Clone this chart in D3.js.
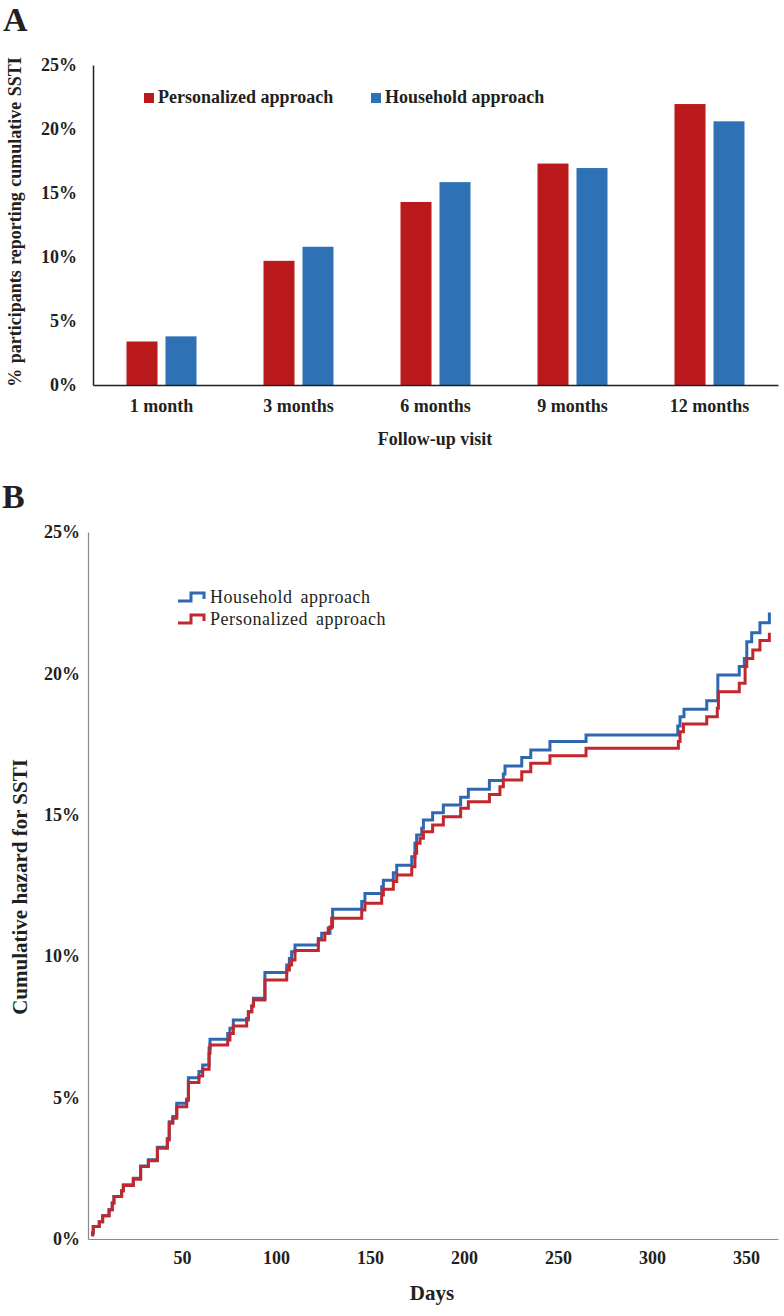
<!DOCTYPE html>
<html>
<head>
<meta charset="utf-8">
<script src="https://cdn.jsdelivr.net/npm/d3@7"></script>
<style>
  body { margin: 0; background: #fff; }
  text { font-family: "Liberation Serif", "Times New Roman", serif; fill: #231f20; }
</style>
</head>
<body>
<div id="chart-area"></div>
<script>
// panel A data
var visits = ["1 month", "3 months", "6 months", "9 months", "12 months"];
var seriesNames = ["Personalized approach", "Household approach"];
var personalizedPct = [3.4, 9.7, 14.3, 17.3, 21.95];
var householdPct = [3.8, 10.8, 15.85, 16.95, 20.6];
var pctTicks = [0, 5, 10, 15, 20, 25];

// panel B data: [day, cumulative hazard %]
var householdHazard = [
  [2.5, 0.1], [2.5, 0.22], [2.8, 0.44], [6, 0.61], [7.8, 0.82], [11.2, 1.03], [12.9, 1.27], [13.8, 1.5],
  [17.9, 1.71], [18.8, 1.92], [24.1, 2.15], [28, 2.58], [32.1, 2.8], [36.9, 3.24], [42.2, 3.55],
  [43.2, 4.15], [45.1, 4.33], [47.2, 4.8], [52.5, 4.95], [53.4, 5.7], [59, 5.92], [61, 6.15],
  [64.4, 6.75], [64.9, 7.06], [74.3, 7.27], [75.5, 7.45], [77.3, 7.74], [85.3, 8.04], [87.1, 8.24],
  [88, 8.51], [94.1, 9.42], [105.7, 9.69], [107.1, 9.92], [108.3, 10.16], [110.1, 10.4],
  [122.5, 10.63], [124.3, 10.81], [128.7, 11.04], [130.1, 11.66], [145.6, 11.93], [147.3, 12.22],
  [156.2, 12.46], [157.1, 12.69], [162.4, 12.95], [164.2, 13.22], [172.2, 13.52], [173.9, 13.99],
  [174.8, 14.29], [177.5, 14.52], [178.4, 14.82], [183.3, 15.07], [189, 15.35], [198.2, 15.62],
  [202.3, 15.9], [213.5, 16.21], [220.9, 16.44], [221.8, 16.73], [230.7, 17.03], [235.5, 17.29],
  [245.7, 17.59], [264.9, 17.82], [313.7, 18.14], [314.9, 18.47], [317, 18.73], [329.1, 19.03],
  [335, 19.94], [346.4, 20.24], [349.1, 20.53], [350.4, 21.12], [353, 21.44], [357.4, 21.79],
  [362.4, 22.15]
];
var personalizedHazard = [
  [2.5, 0.1], [2.5, 0.22], [2.8, 0.44], [6, 0.61], [7.8, 0.82], [11.2, 1.03], [12.9, 1.27], [13.8, 1.5],
  [17.9, 1.71], [18.8, 1.89], [24.1, 2.11], [28, 2.56], [32.1, 2.77], [36.9, 3.21], [42.2, 3.5],
  [43.2, 4.09], [45.1, 4.27], [47.2, 4.68], [52.5, 4.91], [53.4, 5.53], [59, 5.76], [61, 6.0],
  [64.4, 6.57], [64.9, 6.86], [74.3, 7.04], [75.5, 7.27], [77.3, 7.53], [84.4, 7.8], [85.3, 8.04],
  [87.1, 8.24], [88, 8.45], [94.1, 9.16], [105.7, 9.51], [107.1, 9.69], [108.3, 9.87], [110.1, 10.2],
  [122.5, 10.57], [126, 10.81], [127.8, 11.0], [129.6, 11.34], [145.6, 11.63], [147.3, 11.87],
  [156.2, 12.16], [157.1, 12.37], [162.4, 12.64], [164.2, 12.87], [172.2, 13.16], [173.9, 13.64],
  [174.8, 13.99], [176.6, 14.17], [178.4, 14.4], [183.3, 14.64], [189, 14.93], [198.2, 15.23],
  [202.3, 15.46], [213.5, 15.72], [219.1, 15.99], [220.9, 16.23], [230.7, 16.52], [235.5, 16.82],
  [245.7, 17.09], [264.9, 17.35], [314, 17.59], [314.9, 17.94], [316.7, 18.21], [329.1, 18.47],
  [334.7, 18.77], [335.3, 19.35], [346.4, 19.65], [349.5, 20.24], [350.4, 20.53], [353.6, 20.83],
  [357.4, 21.16], [362.4, 21.44]
];
var dayTicks = [50, 100, 150, 200, 250, 300, 350];

var redBar = "#bb1a1c";
var blueBar = "#2e72b5";
var redLine = "#c1272d";
var blueLine = "#2f67b1";

var svg = d3.select("#chart-area").append("svg")
  .attr("width", 784)
  .attr("height", 1316);

svg.append("rect").attr("width", 784).attr("height", 1316).attr("fill", "#fff");

// ---------- panel A ----------
svg.append("text")
  .attr("x", 3).attr("y", 31)
  .attr("font-size", "34px").attr("font-weight", "bold")
  .text("A");

var x0 = d3.scaleBand().domain(visits).range([93, 778]).padding(0);
var x1 = d3.scaleBand().domain(seriesNames).range([0, 70]).paddingInner(0.205).paddingOuter(0);
var yA = d3.scaleLinear().domain([0, 25]).range([385, 65]);

var barData = [];
visits.forEach(function(v, i) {
  barData.push({visit: v, series: seriesNames[0], value: personalizedPct[i], color: redBar});
  barData.push({visit: v, series: seriesNames[1], value: householdPct[i], color: blueBar});
});

svg.selectAll("rect.bar").data(barData).enter().append("rect")
  .attr("class", "bar")
  .attr("x", function(d) { return x0(d.visit) + (x0.bandwidth() - 70) / 2 + x1(d.series); })
  .attr("y", function(d) { return yA(d.value); })
  .attr("width", x1.bandwidth())
  .attr("height", function(d) { return yA(0) - yA(d.value); })
  .attr("fill", function(d) { return d.color; });

var yAxisA = svg.append("g")
  .attr("transform", "translate(93,0)")
  .call(d3.axisLeft(yA).tickValues(pctTicks).tickSize(0).tickPadding(16)
    .tickFormat(function(d) { return d + "%"; }));
yAxisA.select(".domain").attr("stroke", "#231f20").attr("stroke-width", 1.5);
yAxisA.selectAll("text")
  .attr("font-family", "Liberation Serif").attr("font-size", "18px").attr("font-weight", "bold")
  .attr("fill", "#231f20");

var xAxisA = svg.append("g")
  .attr("transform", "translate(0,385)")
  .call(d3.axisBottom(x0).tickSize(0).tickPadding(14));
xAxisA.select(".domain").attr("stroke", "#231f20").attr("stroke-width", 1.5);
xAxisA.selectAll("text")
  .attr("font-family", "Liberation Serif").attr("font-size", "18px").attr("font-weight", "bold")
  .attr("fill", "#231f20");

svg.append("text")
  .attr("x", 435).attr("y", 445)
  .attr("text-anchor", "middle")
  .attr("font-size", "18px").attr("font-weight", "bold")
  .text("Follow-up visit");

svg.append("text")
  .attr("transform", "rotate(-90)")
  .attr("x", -222).attr("y", 21)
  .attr("text-anchor", "middle")
  .attr("font-size", "18px").attr("font-weight", "bold")
  .attr("word-spacing", "1px")
  .text("% participants reporting cumulative SSTI");

// legend A
var legA = [{name: seriesNames[0], color: redBar, x: 144}, {name: seriesNames[1], color: blueBar, x: 371}];
var legAg = svg.selectAll("g.legA").data(legA).enter().append("g")
  .attr("class", "legA")
  .attr("transform", function(d) { return "translate(" + d.x + ",93)"; });
legAg.append("rect").attr("width", 10).attr("height", 10).attr("fill", function(d) { return d.color; });
legAg.append("text")
  .attr("x", 14).attr("y", 10)
  .attr("font-size", "18px").attr("font-weight", "bold")
  .text(function(d) { return d.name; });

// ---------- panel B ----------
svg.append("text")
  .attr("x", 2).attr("y", 508)
  .attr("font-size", "34px").attr("font-weight", "bold")
  .text("B");

var xB = d3.scaleLinear().domain([0, 367]).range([88, 778]);
var yB = d3.scaleLinear().domain([0, 25]).range([1239, 532]);

var yAxisB = svg.append("g")
  .attr("transform", "translate(88,0)")
  .call(d3.axisLeft(yB).tickValues(pctTicks).tickSize(0).tickPadding(8)
    .tickFormat(function(d) { return d + "%"; }));
yAxisB.select(".domain").attr("stroke", "#8a8a8a").attr("stroke-width", 1.2);
yAxisB.selectAll("text")
  .attr("font-family", "Liberation Serif").attr("font-size", "18px").attr("font-weight", "bold")
  .attr("fill", "#231f20");

var xAxisB = svg.append("g")
  .attr("transform", "translate(0,1239)")
  .call(d3.axisBottom(xB).tickValues(dayTicks).tickSize(0).tickPadding(12));
xAxisB.select(".domain").attr("stroke", "#8a8a8a").attr("stroke-width", 1.2);
xAxisB.selectAll("text")
  .attr("font-family", "Liberation Serif").attr("font-size", "18px").attr("font-weight", "bold")
  .attr("fill", "#231f20");

svg.append("text")
  .attr("x", 432).attr("y", 1300)
  .attr("text-anchor", "middle")
  .attr("font-size", "21px").attr("font-weight", "bold")
  .text("Days");

svg.append("text")
  .attr("transform", "rotate(-90)")
  .attr("x", -887).attr("y", 27)
  .attr("text-anchor", "middle")
  .attr("font-size", "21px").attr("font-weight", "bold")
  .text("Cumulative hazard for SSTI");

var stepLine = d3.line()
  .x(function(d) { return xB(d[0]); })
  .y(function(d) { return yB(d[1]); })
  .curve(d3.curveStepAfter);

svg.append("path").datum(householdHazard)
  .attr("fill", "none").attr("stroke", blueLine).attr("stroke-width", 3)
  .attr("d", stepLine);

svg.append("path").datum(personalizedHazard)
  .attr("fill", "none").attr("stroke", redLine).attr("stroke-width", 3)
  .attr("d", stepLine);

// legend B
var legB = [{name: "Household approach", color: blueLine, y: 601}, {name: "Personalized approach", color: redLine, y: 623}];
var legBg = svg.selectAll("g.legB").data(legB).enter().append("g")
  .attr("class", "legB")
  .attr("transform", function(d) { return "translate(178," + d.y + ")"; });
legBg.append("path")
  .attr("d", "M0,0H13V-8H26V-2")
  .attr("fill", "none").attr("stroke-width", 3)
  .attr("stroke", function(d) { return d.color; });
legBg.append("text")
  .attr("x", 32).attr("y", 2)
  .attr("font-size", "18px")
  .attr("letter-spacing", "0.5px").attr("word-spacing", "3px")
  .text(function(d) { return d.name; });
</script>
</body>
</html>
